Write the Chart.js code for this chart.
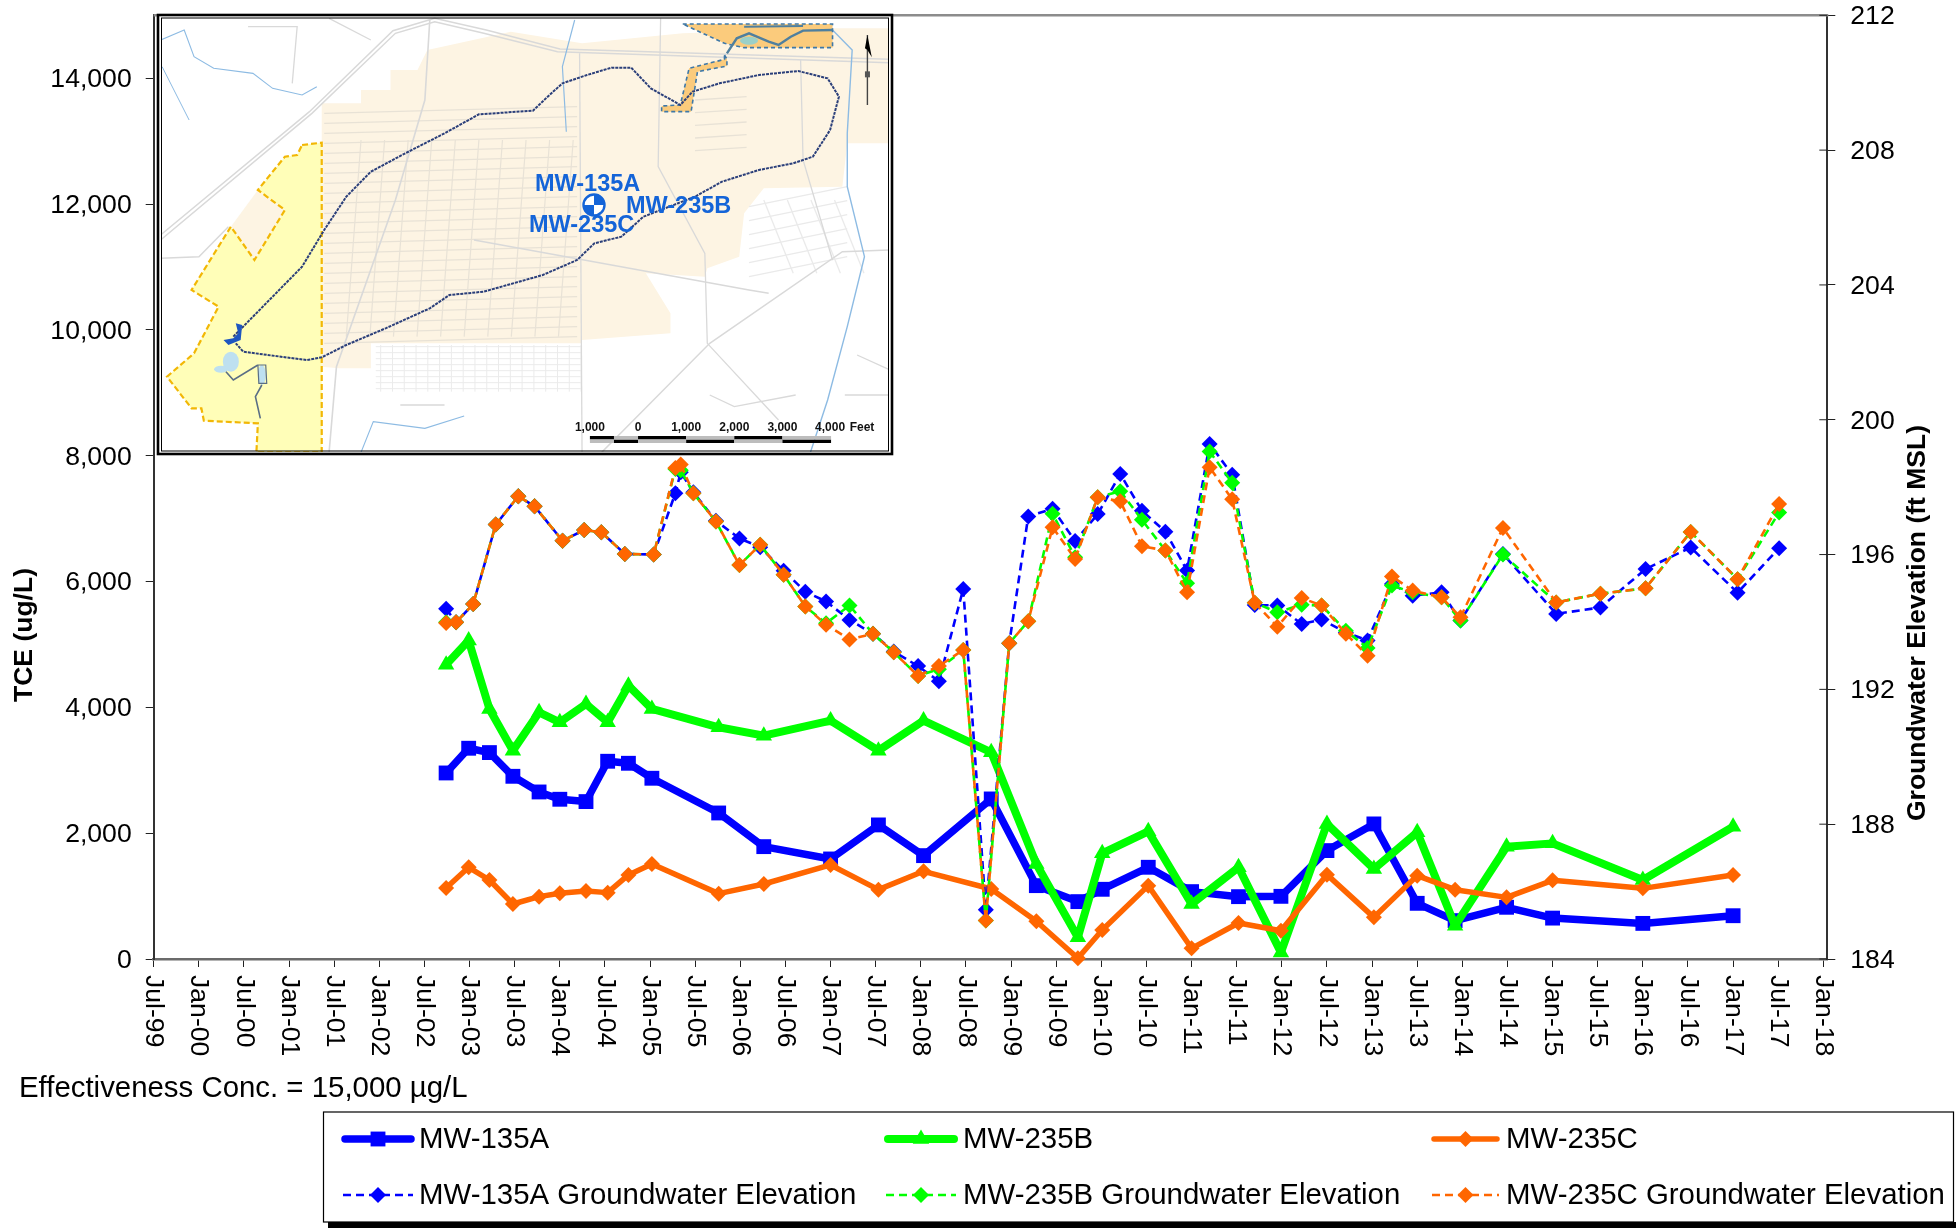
<!DOCTYPE html>
<html lang="en">
<head>
<meta charset="UTF-8">
<title>TCE and Groundwater Elevation</title>
<script src="https://cdn.jsdelivr.net/npm/chart.js"></script>
<style>
  html, body { margin: 0; padding: 0; background: #fff; }
  canvas { display: block; }
</style>
</head>
<body>
<canvas id="myChart" width="1956" height="1230"></canvas>
<script>
// axis labels
const xTickLabels = ['Jul-99','Jan-00','Jul-00','Jan-01','Jul-01','Jan-02','Jul-02','Jan-03','Jul-03','Jan-04','Jul-04','Jan-05','Jul-05','Jan-06','Jul-06','Jan-07','Jul-07','Jan-08','Jul-08','Jan-09','Jul-09','Jan-10','Jul-10','Jan-11','Jul-11','Jan-12','Jul-12','Jan-13','Jul-13','Jan-14','Jul-14','Jan-15','Jul-15','Jan-16','Jul-16','Jan-17','Jul-17','Jan-18'];
const tceTicks = [0,2000,4000,6000,8000,10000,12000,14000];
const elevTicks = [184,188,192,196,200,204,208,212];

// TCE samples (decimal year, ug/L)
const sampleYears = [2002.74,2002.99,2003.22,2003.48,2003.77,2004.0,2004.29,2004.53,2004.76,2005.02,2005.76,2006.26,2007.0,2007.53,2008.03,2008.78,2009.28,2009.74,2010.01,2010.52,2011.0,2011.52,2011.99,2012.5,2013.02,2013.5,2013.92,2014.49,2015.0,2016.0,2017.0];
const tce135A = [2957,3350,3281,2904,2655,2539,2502,3143,3111,2873,2321,1786,1590,2131,1643,2544,1166,912,1108,1458,1071,991,996,1723,2147,885,610,822,650,566,688];
const tce235B = [4679,5061,3975,3312,3921,3762,4054,3762,4345,3975,3683,3550,3789,3312,3789,3285,1510,344,1679,2029,874,1457,105,2146,1431,2013,530,1785,1838,1256,2103];
const tce235C = [1129,1457,1256,874,991,1044,1081,1055,1336,1510,1039,1192,1495,1102,1394,1113,599,11,461,1166,170,572,450,1341,662,1325,1102,980,1250,1123,1335];

// groundwater elevation (decimal year, ft MSL)
const elevYears = [2002.74,2002.85,2003.04,2003.29,2003.54,2003.72,2004.03,2004.27,2004.46,2004.72,2005.04,2005.28,2005.34,2005.48,2005.73,2005.99,2006.22,2006.48,2006.72,2006.95,2007.21,2007.47,2007.7,2007.97,2008.2,2008.47,2008.72,2008.98,2009.19,2009.46,2009.71,2009.96,2010.21,2010.45,2010.71,2010.95,2011.2,2011.45,2011.7,2011.95,2012.22,2012.44,2012.71,2012.95,2013.22,2013.45,2013.77,2013.98,2014.45,2015.04,2015.53,2016.03,2016.53,2017.05,2017.51];
const elev135A = [194.39,193.99,194.53,196.89,197.73,197.43,196.41,196.73,196.66,196.02,196.0,197.82,198.44,197.85,197.0,196.48,196.22,195.52,194.9,194.61,194.06,193.65,193.12,192.69,192.24,194.98,185.46,193.37,197.13,197.36,196.4,197.2,198.39,197.3,196.68,195.53,199.28,198.37,194.5,194.49,193.94,194.07,193.69,193.45,195.13,194.78,194.88,194.04,196.02,194.24,194.43,195.57,196.21,194.87,196.19];
const elev235B = [193.99,193.99,194.53,196.89,197.73,197.43,196.41,196.73,196.66,196.02,196.0,198.54,198.5,197.82,196.98,195.69,196.29,195.4,194.46,193.96,194.49,193.65,193.1,192.4,192.6,193.17,185.14,193.37,194.02,197.21,195.92,197.7,197.88,197.03,196.12,195.15,199.06,198.13,194.57,194.29,194.51,194.49,193.74,193.23,195.08,194.88,194.73,194.04,196.0,194.58,194.84,195.0,196.67,195.27,197.25];
const elev235C = [193.97,193.99,194.53,196.89,197.73,197.43,196.41,196.73,196.66,196.02,196.0,198.57,198.67,197.82,196.98,195.69,196.29,195.4,194.46,193.92,193.48,193.65,193.1,192.4,192.69,193.17,185.14,193.37,194.02,196.81,195.87,197.7,197.58,196.25,196.12,194.88,198.59,197.64,194.57,193.86,194.71,194.49,193.65,193.0,195.35,194.93,194.73,194.14,196.79,194.58,194.84,195.0,196.67,195.27,197.5];

const BLUE = '#0000FF', GREEN = '#00FF00', ORANGE = '#FF6600';
const FONT = '"Liberation Sans", Arial, sans-serif';

function toPoints(xs, ys) { return xs.map((x, i) => ({ x: x, y: ys[i] })); }

function tceSet(label, ys, color, style, width, radius, order) {
    return { label: label, data: toPoints(sampleYears, ys), yAxisID: 'y', borderColor: color, backgroundColor: color,
        borderWidth: width, borderJoinStyle: 'round', pointStyle: style, pointRadius: radius, pointBorderWidth: 0,
        pointBackgroundColor: color, tension: 0, clip: false, order: order };
}
function elevSet(label, ys, color, order) {
    return { label: label, data: toPoints(elevYears, ys), yAxisID: 'y1', borderColor: color, backgroundColor: color,
        borderWidth: 2.6, borderDash: [8, 5], pointStyle: 'rectRot', pointRadius: 8, pointBorderWidth: 0,
        pointBackgroundColor: color, tension: 0, clip: false, order: order };
}

// map coordinates below were measured on a stretched crop, this converts them to page pixels
const mx = x => 140 + x / 2.036;
const my = y => y / 3;

function mapLine(ctx, pts, close) {
    ctx.beginPath();
    pts.forEach((p, i) => { if (i === 0) ctx.moveTo(mx(p[0]), my(p[1])); else ctx.lineTo(mx(p[0]), my(p[1])); });
    if (close) ctx.closePath();
}
function fillMap(ctx, pts, color) { mapLine(ctx, pts, true); ctx.fillStyle = color; ctx.fill(); }
function strokeMap(ctx, pts, color, width, dash, close) {
    mapLine(ctx, pts, close);
    ctx.strokeStyle = color; ctx.lineWidth = width; ctx.setLineDash(dash || []); ctx.stroke(); ctx.setLineDash([]);
}

const insetPlugin = {
    id: 'insetMap',
    afterDraw(chart) {
        const ctx = chart.ctx;
        ctx.save();
        ctx.fillStyle = '#fff';
        ctx.fillRect(158, 14, 734, 440);
        ctx.beginPath();
        ctx.rect(161, 17, 728, 435);
        ctx.clip();

        // beige developed area
        fillMap(ctx, [[585,150],[755,95],[900,130],[1105,100],[1410,85],[1527,85],[1527,430],[1440,430],[1430,560],[1270,565],[1230,640],[1220,770],[1155,805],[1150,830],[1030,820],[1080,940],[1080,1000],[900,1020],[900,1030],[470,1030],[470,1105],[405,1105],[370,1100],[370,430],[370,310],[450,310],[450,270],[510,270],[510,210],[565,210]], '#FDF4E3');

        // street grid
        for (let y = 320; y < 1020; y += 30) {
            strokeMap(ctx, [[375, y + 20], [890, y]], '#E8E2D6', 1.2);
        }
        for (let x = 450; x < 900; x += 48) {
            strokeMap(ctx, [[x, 420], [x - 30, 1010]], '#E8E2D6', 1.2);
        }
        for (let y = 1040; y < 1180; y += 18) {
            strokeMap(ctx, [[480, y], [900, y]], '#EBEBEB', 1);
        }
        for (let x = 490; x < 900; x += 24) {
            strokeMap(ctx, [[x, 1035], [x, 1175]], '#EBEBEB', 1);
        }
        for (let y = 590; y < 830; y += 42) {
            strokeMap(ctx, [[1240, y + 30], [1440, y - 30]], '#EAEAEA', 1.3);
        }
        for (let x = 1270; x < 1440; x += 48) {
            strokeMap(ctx, [[x, 600], [x + 60, 820]], '#EAEAEA', 1.3);
        }
        for (let y = 300; y < 470; y += 38) {
            strokeMap(ctx, [[1130, y], [1235, y - 10]], '#E8E2D6', 1.3);
        }

        // main roads
        const road = '#D9D9D9';
        strokeMap(ctx, [[42,720],[350,340],[520,100],[600,65],[700,100],[850,155],[1527,188]], road, 1.5);
        strokeMap(ctx, [[42,705],[345,335],[515,92],[600,55],[705,90],[855,147],[1527,178]], road, 1.5);
        strokeMap(ctx, [[42,775],[120,770],[180,680]], road, 1.5);
        strokeMap(ctx, [[590,60],[580,300],[520,600],[400,1100],[385,1357]], road, 1.6);
        strokeMap(ctx, [[895,160],[900,1357]], road, 1.3);
        strokeMap(ctx, [[1060,55],[1055,500],[1150,760],[1155,1030],[1300,1260]], road, 1.3);
        strokeMap(ctx, [[1527,750],[1430,755],[1160,1030],[940,1357]], road, 1.5);
        strokeMap(ctx, [[680,720],[1240,870],[1280,880]], road, 1.5);
        strokeMap(ctx, [[1345,180],[1350,480],[1410,780]], road, 1.3);
        strokeMap(ctx, [[220,80],[320,80],[310,250]], road, 1.3);
        strokeMap(ctx, [[385,55],[470,120]], road, 1.3);
        strokeMap(ctx, [[1160,1185],[1210,1220],[1335,1185]], road, 1.3);
        strokeMap(ctx, [[530,1215],[620,1215]], road, 1.3);
        strokeMap(ctx, [[1435,1185],[1527,1185]], road, 1.3);
        strokeMap(ctx, [[1460,1065],[1527,1110]], road, 1.3);

        // yellow area with its notch
        const yellow = [[330,435],[370,428],[370,1357],[237,1357],[240,1270],[130,1262],[125,1225],[105,1225],[55,1130],[110,1060],[160,920],[105,870],[185,680],[233,780],[295,630],[240,570],[295,470],[320,465]];
        fillMap(ctx, yellow, '#FFFEB8');
        fillMap(ctx, [[240,570],[295,630],[233,780],[185,680]], '#FDF4E3');
        strokeMap(ctx, yellow, '#F2B705', 2.2, [6, 3], true);

        // creeks
        const creek = '#8DBBE3';
        strokeMap(ctx, [[1410,90],[1450,150],[1440,400],[1440,560],[1475,770],[1440,980],[1400,1200],[1365,1357]], creek, 1.4);
        strokeMap(ctx, [[885,60],[860,200],[868,395]], creek, 1.2);
        strokeMap(ctx, [[42,120],[90,90],[110,170],[150,205],[230,220],[270,265],[330,285],[360,260]], creek, 1.1);
        strokeMap(ctx, [[45,200],[100,360]], creek, 1);
        strokeMap(ctx, [[450,1357],[475,1265],[580,1285],[660,1248]], creek, 1.1);

        // orange basin and pipeline at the top
        const basin = [[1105,72],[1410,72],[1410,143],[1230,143],[1190,130]];
        fillMap(ctx, basin, '#FBCB7C');
        strokeMap(ctx, basin, '#3E78A8', 1.6, [4, 3], true);
        const corridor = [[1190,165],[1195,178],[1195,198],[1135,215],[1122,335],[1062,335],[1062,318],[1100,315],[1118,205],[1190,178]];
        fillMap(ctx, corridor, '#FBCB7C');
        strokeMap(ctx, corridor, '#3E78A8', 1.6, [4, 3], true);
        strokeMap(ctx, [[1195,160],[1215,115],[1240,100],[1280,125],[1300,135],[1325,110],[1350,92],[1410,90]], '#4F7F9E', 2.4);
        strokeMap(ctx, [[1230,80],[1350,78]], '#4F7F9E', 2);
        ctx.beginPath();
        ctx.ellipse(mx(1240), my(122), 9, 4, 0, 0, Math.PI * 2);
        ctx.fillStyle = '#9BD0C8';
        ctx.fill();

        // plume outline
        strokeMap(ctx, [[190,1010],[330,800],[375,690],[420,590],[470,515],[540,460],[620,400],[690,343],[800,332],[830,290],[860,250],[910,225],[960,203],[1000,203],[1040,265],[1100,315],[1125,275],[1180,250],[1260,225],[1340,213],[1400,235],[1423,290],[1405,390],[1370,470],[1330,490],[1260,510],[1185,545],[1130,590],[1025,650],[980,710],[925,730],[890,780],[820,825],[700,875],[630,885],[590,925],[500,985],[420,1035],[370,1072],[340,1080],[260,1065],[210,1055],[195,1030]], '#2B3F7A', 2, [3, 1], false);

        // ponds
        fillMap(ctx, [[170,1020],[190,1015],[200,1000],[195,970],[208,975],[205,1020],[180,1035]], '#1E56C0');
        ctx.fillStyle = '#BEE0F0';
        ctx.beginPath(); ctx.ellipse(mx(185), my(1085), 8, 10, 0, 0, Math.PI * 2); ctx.fill();
        ctx.beginPath(); ctx.ellipse(mx(165), my(1108), 7, 3.5, 0, 0, Math.PI * 2); ctx.fill();
        ctx.beginPath(); ctx.ellipse(mx(248), my(1125), 4, 10, 0, 0, Math.PI * 2); ctx.fill();
        strokeMap(ctx, [[175,1115],[190,1140],[240,1095]], '#5A6E85', 1.6);
        strokeMap(ctx, [[248,1155],[235,1190],[245,1255]], '#5A6E85', 1.6);
        strokeMap(ctx, [[240,1095],[256,1095],[258,1150],[242,1150],[240,1095]], '#5A6E85', 1.2);

        // well marker
        const wx = 594, wy = 205;
        ctx.fillStyle = '#fff';
        ctx.beginPath(); ctx.arc(wx, wy, 11, 0, Math.PI * 2); ctx.fill();
        ctx.fillStyle = '#1464D8';
        ctx.beginPath(); ctx.moveTo(wx, wy); ctx.arc(wx, wy, 11, -Math.PI / 2, 0); ctx.fill();
        ctx.beginPath(); ctx.moveTo(wx, wy); ctx.arc(wx, wy, 11, Math.PI / 2, Math.PI); ctx.fill();
        ctx.strokeStyle = '#1464D8'; ctx.lineWidth = 2.4;
        ctx.beginPath(); ctx.arc(wx, wy, 10.5, 0, Math.PI * 2); ctx.stroke();

        // well labels
        ctx.fillStyle = '#1464D8';
        ctx.font = 'bold 23.5px ' + FONT;
        ctx.textAlign = 'left';
        ctx.textBaseline = 'middle';
        ctx.fillText('MW-135A', 535, 185);
        ctx.fillText('MW-235B', 626, 207);
        ctx.fillText('MW-235C', 529, 226);

        // scale bar
        const stops = [916, 965, 1014, 1112, 1210, 1308, 1407];
        for (let i = 0; i < stops.length - 1; i++) {
            ctx.fillStyle = '#000';
            ctx.fillRect(mx(stops[i]), i % 2 === 0 ? 436 : 439.5, (stops[i + 1] - stops[i]) / 2.036, 3.5);
            ctx.fillStyle = '#BDBDBD';
            ctx.fillRect(mx(stops[i]), i % 2 === 0 ? 439.5 : 436, (stops[i + 1] - stops[i]) / 2.036, 3.5);
        }
        ctx.fillStyle = '#111';
        ctx.font = 'bold 12px ' + FONT;
        ctx.textAlign = 'center';
        ['1,000', '0', '1,000', '2,000', '3,000', '4,000'].forEach((t, i) => {
            ctx.fillText(t, mx([916, 1014, 1112, 1210, 1308, 1405][i]), 428);
        });
        ctx.fillText('Feet', mx(1470), 428);

        // north arrow
        strokeMap(ctx, [[1481,105],[1481,315]], '#444', 1.4);
        fillMap(ctx, [[1481,105],[1490,172],[1481,150],[1476,145]], '#000');
        ctx.fillStyle = '#555';
        ctx.fillRect(mx(1476), my(214), 5, 6);
        ctx.restore();

        // inset frame
        ctx.strokeStyle = '#000';
        ctx.lineWidth = 2.6;
        ctx.strokeRect(158, 15, 734, 439);
        ctx.lineWidth = 1;
        ctx.strokeRect(161.5, 18, 727, 433);
    }
};

const extrasPlugin = {
    id: 'extras',
    afterDatasetsDraw(chart) {
        const ctx = chart.ctx, area = chart.chartArea;
        ctx.save();

        // top border of the plot
        ctx.strokeStyle = '#8C8C8C';
        ctx.lineWidth = 2.5;
        ctx.beginPath(); ctx.moveTo(area.left, area.top); ctx.lineTo(area.right + 1, area.top); ctx.stroke();

        // right axis ticks also run into the plot
        ctx.strokeStyle = '#222';
        ctx.lineWidth = 1;
        chart.scales.y1.ticks.forEach(t => {
            const y = chart.scales.y1.getPixelForValue(t.value);
            ctx.beginPath(); ctx.moveTo(area.right - 8, y); ctx.lineTo(area.right, y); ctx.stroke();
        });

        // x labels read top to bottom
        ctx.fillStyle = '#000';
        ctx.font = '26.6px ' + FONT;
        ctx.textAlign = 'left';
        ctx.textBaseline = 'middle';
        chart.scales.x.ticks.forEach((t, i) => {
            ctx.save();
            ctx.translate(chart.scales.x.getPixelForValue(t.value), 975);
            ctx.rotate(Math.PI / 2);
            ctx.fillText(xTickLabels[i], 0, 0);
            ctx.restore();
        });

        // axis titles sit off centre in the reference
        ctx.textAlign = 'center';
        ctx.font = 'bold 26.5px ' + FONT;
        ctx.save();
        ctx.translate(25, 635); ctx.rotate(-Math.PI / 2);
        ctx.fillText('TCE (ug/L)', 0, 0);
        ctx.restore();
        ctx.save();
        ctx.translate(1918, 623); ctx.rotate(-Math.PI / 2);
        ctx.fillText('Groundwater Elevation (ft MSL)', 0, 0);
        ctx.restore();

        // note
        ctx.textAlign = 'left';
        ctx.textBaseline = 'alphabetic';
        ctx.font = '29.4px ' + FONT;
        ctx.fillText('Effectiveness Conc. = 15,000 \u00B5g/L', 19, 1097);

        // legend
        ctx.fillStyle = '#000';
        ctx.fillRect(328, 1222, 1628, 6);
        ctx.fillStyle = '#fff';
        ctx.fillRect(323.5, 1112, 1630, 110);
        ctx.strokeStyle = '#000';
        ctx.lineWidth = 1.2;
        ctx.strokeRect(323.5, 1112, 1630, 110);

        const columns = [[341, 415, 419], [884, 958, 963], [1430, 1501, 1506]];
        const rows = [1139, 1195];
        const legendSets = [[0, 3], [1, 4], [2, 5]];
        legendSets.forEach((pair, c) => {
            pair.forEach((idx, r) => {
                const ds = chart.data.datasets[idx];
                const col = columns[c], y = rows[r];
                ctx.strokeStyle = ds.borderColor;
                ctx.lineWidth = ds.borderWidth;
                ctx.lineCap = r === 0 ? 'round' : 'butt';
                ctx.setLineDash(ds.borderDash || []);
                ctx.beginPath(); ctx.moveTo(col[0] + (r === 0 ? 4 : 2), y); ctx.lineTo(col[1] - (r === 0 ? 4 : 2), y); ctx.stroke();
                ctx.setLineDash([]);
                ctx.lineCap = 'butt';
                ctx.fillStyle = ds.borderColor;
                Chart.helpers.drawPoint(ctx, { pointStyle: ds.pointStyle, radius: ds.pointRadius, rotation: 0, borderWidth: 0 }, (col[0] + col[1]) / 2, y);
                ctx.fillStyle = '#000';
                ctx.textBaseline = 'middle';
                ctx.font = '29.4px ' + FONT;
                ctx.fillText(ds.label, col[2], y + 1);
            });
        });
        ctx.restore();
    }
};

// scale padding off, so the plot box stays where the reference has it
const noOverhang = s => { s.paddingTop = 0; s.paddingBottom = 0; s.paddingLeft = 0; s.paddingRight = 0; };

const myChart = new Chart(document.getElementById('myChart').getContext('2d'), {
    type: 'line',
    data: {
        datasets: [
            tceSet('MW-135A', tce135A, BLUE, 'rect', 7.5, 10.5, 6),
            tceSet('MW-235B', tce235B, GREEN, 'triangle', 8, 9.5, 5),
            tceSet('MW-235C', tce235C, ORANGE, 'rectRot', 5.5, 8, 4),
            elevSet('MW-135A Groundwater Elevation', elev135A, BLUE, 3),
            elevSet('MW-235B Groundwater Elevation', elev235B, GREEN, 2),
            elevSet('MW-235C Groundwater Elevation', elev235C, ORANGE, 1)
        ]
    },
    options: {
        responsive: false,
        animation: false,
        layout: { padding: { top: 15.3, left: 0, right: 0, bottom: 0 } },
        plugins: { legend: { display: false }, title: { display: false }, tooltip: { enabled: false } },
        scales: {
            x: {
                type: 'linear',
                min: 1999.5,
                max: 2018.044,
                afterFit: s => { noOverhang(s); s.height = 271; },
                grid: { drawOnChartArea: false, tickLength: 8, tickColor: '#222', tickWidth: 1 },
                border: { color: '#6B6B6B', width: 2.5 },
                ticks: { display: false, stepSize: 0.5, autoSkip: false, includeBounds: false }
            },
            y: {
                position: 'left',
                min: 0,
                max: 15000,
                afterBuildTicks: s => { s.ticks = tceTicks.map(v => ({ value: v })); },
                afterFit: s => { noOverhang(s); s.width = 153.7; },
                grid: { drawOnChartArea: false, tickLength: 8, tickColor: '#222', tickWidth: 1 },
                border: { color: '#333', width: 2 },
                ticks: {
                    autoSkip: false,
                    padding: 14,
                    labelOffset: 1.5,
                    color: '#000',
                    font: { family: FONT, size: 26.6 },
                    callback: v => v.toLocaleString('en-US')
                }
            },
            y1: {
                position: 'right',
                min: 184,
                max: 212,
                afterBuildTicks: s => { s.ticks = elevTicks.map(v => ({ value: v })); },
                afterFit: s => { noOverhang(s); s.width = 128.7; },
                grid: { drawOnChartArea: false, tickLength: 8, tickColor: '#222', tickWidth: 1 },
                border: { color: '#333', width: 2 },
                ticks: { autoSkip: false, padding: 15, labelOffset: 1.5, color: '#000', font: { family: FONT, size: 26.6 } }
            }
        }
    },
    plugins: [extrasPlugin, insetPlugin]
});
</script>
</body>
</html>
